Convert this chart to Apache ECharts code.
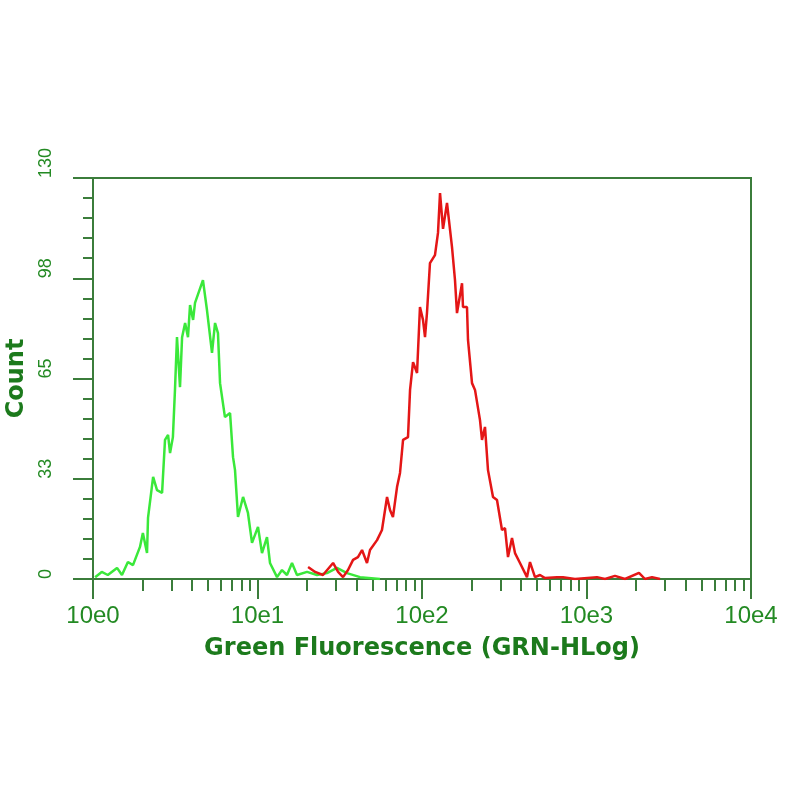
<!DOCTYPE html>
<html>
<head>
<meta charset="utf-8">
<script src="https://cdn.jsdelivr.net/npm/echarts@6/dist/echarts.min.js"></script>
<style>
    html, body { margin: 0; padding: 0; background: #fff; }
    #div_hist { width: 800px; height: 800px; }
</style>
</head>
<body>
<div id="div_hist"></div>
<script>
// green histogram (unstained / control), fluorescence vs count
var greenX = [1.03, 1.13, 1.23, 1.40, 1.50, 1.63, 1.75, 1.93, 2.01, 2.13, 2.16, 2.32, 2.45, 2.63,
    2.74, 2.86, 2.94, 3.06, 3.15, 3.24, 3.38, 3.48, 3.63, 3.78, 3.89, 4.06, 4.17, 4.66, 4.93,
    5.29, 5.52, 5.75, 5.92, 6.34, 6.81, 7.10, 7.30, 7.61, 8.17, 8.75, 9.26, 10.07, 10.65, 11.42,
    11.91, 13.14, 14.09, 15.11, 16.21, 17.38, 20.0, 23.0, 26.45, 30.4, 35.0, 42.0, 55.5];
var greenY = [0.6, 2.3, 1.3, 3.6, 1.3, 5.5, 4.5, 10.4, 14.9, 8.4, 19.8, 33.1, 28.8, 27.9,
    45.1, 46.7, 40.8, 46.0, 61.3, 78.4, 62.2, 78.4, 83.0, 78.4, 88.8, 84.0, 89.5, 96.9, 87.2,
    73.3, 83.0, 79.7, 63.5, 52.5, 53.8, 39.5, 35.3, 20.1, 26.6, 21.4, 11.7, 16.9, 8.4, 13.6,
    5.2, 0.6, 2.9, 1.3, 5.2, 1.3, 2.3, 1.3, 1.9, 3.6, 1.9, 0.6, 0];

// red histogram (stained)
var redX = [20.3, 22.4, 25.0, 28.8, 30.9, 33.1, 35.5, 38.1, 40.8, 43.2, 46.3, 48.3, 53.3, 57.1,
    61.3, 63.9, 66.6, 70.5, 73.5, 76.7, 82.2, 84.6, 88.2, 93.3, 97.2, 101.4, 104.3, 107.2,
    111.8, 119.9, 125.1, 128.7, 134.2, 141.9, 152.2, 158.7, 163.2, 175.1, 177.5, 187.7, 190.4,
    201.4, 210.0, 225.2, 231.6, 241.5, 251.9, 270.2, 285.7, 306.4, 319.6, 333.3, 352.5, 367.6,
    394.1, 434.7, 453.4, 486.3, 521.7, 559.4, 661.7, 719.6, 851, 1158, 1296, 1490, 1714, 2085,
    2268, 2502, 2798];
var redY = [3.9, 2.3, 1.3, 5.2, 2.3, 0.6, 2.9, 6.2, 7.1, 9.4, 5.2, 9.4, 12.6, 15.9,
    26.6, 22.4, 20.1, 29.8, 34.4, 45.1, 46.0, 61.3, 70.3, 66.8, 88.2, 84.0, 78.4, 86.2,
    102.4, 105.0, 112.2, 125.1, 113.5, 121.9, 107.6, 96.9, 86.2, 95.9, 88.2, 88.2, 77.5,
    63.5, 61.3, 51.5, 45.1, 49.3, 35.3, 26.6, 25.6, 15.9, 16.5, 7.1, 13.3, 8.4,
    5.2, 0.6, 5.5, 0.6, 1.3, 0.3, 0.6, 0.6, 0, 0.6, 0, 1, 0, 2, 0, 0.6, 0];

var xTickValues = [1, 10, 100, 1000, 10000];
var xTickLabels = ['10e0', '10e1', '10e2', '10e3', '10e4'];
var xMinorValues = [2, 3, 4, 5, 6, 7, 8, 9, 20, 30, 40, 50, 60, 70, 80, 90,
    200, 300, 400, 500, 600, 700, 800, 900, 2000, 3000, 4000, 5000, 6000, 7000, 8000, 9000];
var yMax = 130;
var yStep = 32.5;

var axisColor = '#3b7d3b';
var labelColor = '#238a23';
var nameColor = '#1c7a1c';

function pairs(xs, ys) {
    var out = [];
    for (var i = 0; i < xs.length; i++) {
        out.push([xs[i], ys[i]]);
    }
    return out;
}

var myChart = echarts.init(document.getElementById('div_hist'));
myChart.setOption(getOption());

function getOption() {
    var option = {
        backgroundColor: '#ffffff',
        animation: false,
        grid: {
            left: 93,
            right: 49,
            top: 178,
            bottom: 221,
            outerBoundsMode: 'none',
            containLabel: false,
            show: true,
            borderColor: axisColor,
            borderWidth: 2,
            backgroundColor: '#ffffff'
        },
        xAxis: [
            {
                type: 'log',
                logBase: 10,
                min: 1,
                max: 10000,
                position: 'bottom',
                name: 'Green Fluorescence (GRN-HLog)',
                nameLocation: 'middle',
                nameGap: 58,
                nameTextStyle: {
                    color: nameColor,
                    fontFamily: 'DejaVu Sans',
                    fontWeight: 'bold',
                    fontSize: 24
                },
                axisLine: { show: true, lineStyle: { color: axisColor, width: 2 } },
                axisTick: {
                    show: true,
                    inside: false,
                    length: 20,
                    customValues: xTickValues,
                    lineStyle: { color: axisColor, width: 2 }
                },
                axisLabel: {
                    customValues: xTickValues,
                    margin: 25,
                    color: labelColor,
                    fontFamily: 'Liberation Sans',
                    fontSize: 24,
                    formatter: function (v) {
                        return xTickLabels[Math.round(Math.log10(v))];
                    }
                },
                splitLine: { show: false }
            },
            {
                type: 'log',
                logBase: 10,
                min: 1,
                max: 10000,
                position: 'bottom',
                axisLine: { show: false },
                axisTick: {
                    show: true,
                    inside: false,
                    length: 12,
                    customValues: xMinorValues,
                    lineStyle: { color: axisColor, width: 2 }
                },
                axisLabel: { show: false },
                splitLine: { show: false }
            }
        ],
        yAxis: {
            type: 'value',
            min: 0,
            max: yMax,
            interval: yStep,
            name: 'Count',
            nameLocation: 'middle',
            nameGap: 55,
            nameRotate: 90,
            nameTextStyle: {
                color: nameColor,
                fontFamily: 'DejaVu Sans',
                fontWeight: 'bold',
                fontSize: 24
            },
            axisLine: { show: true, lineStyle: { color: axisColor, width: 2 } },
            axisTick: {
                show: true,
                inside: false,
                length: 20,
                lineStyle: { color: axisColor, width: 2 }
            },
            minorTick: {
                show: true,
                splitNumber: 5,
                length: 10,
                lineStyle: { color: axisColor, width: 2 }
            },
            axisLabel: {
                rotate: 90,
                align: 'left',
                verticalAlign: 'bottom',
                margin: 38,
                color: labelColor,
                fontFamily: 'Liberation Sans',
                fontSize: 18,
                formatter: function (v) {
                    return String(Math.round(v));
                }
            },
            splitLine: { show: false },
            minorSplitLine: { show: false }
        },
        series: [
            {
                name: 'control',
                type: 'line',
                xAxisIndex: 0,
                showSymbol: false,
                data: pairs(greenX, greenY),
                lineStyle: { color: '#3ae83a', width: 2.5 },
                itemStyle: { color: '#3ae83a' },
                z: 3
            },
            {
                name: 'stained',
                type: 'line',
                xAxisIndex: 0,
                showSymbol: false,
                data: pairs(redX, redY),
                lineStyle: { color: '#e41616', width: 2.5 },
                itemStyle: { color: '#e41616' },
                z: 4
            }
        ]
    };
    return option;
}
</script>
</body>
</html>
